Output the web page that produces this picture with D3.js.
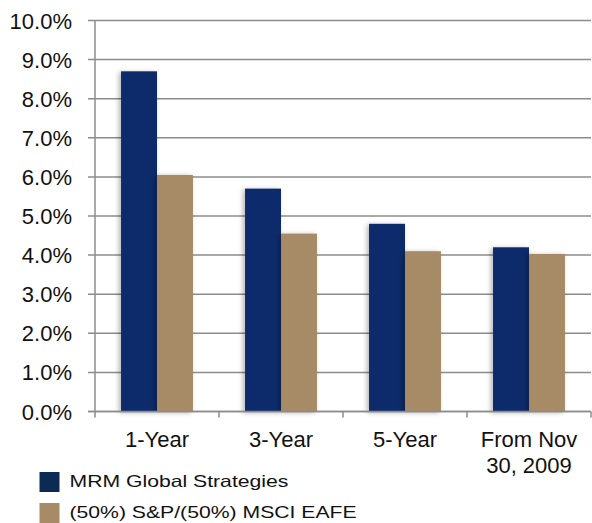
<!DOCTYPE html>
<html>
<head>
<meta charset="utf-8">
<script src="https://cdn.jsdelivr.net/npm/d3@7"></script>
<style>
  body { margin: 0; background: #fff; }
  svg text { font-family: "Liberation Sans", Arial, sans-serif; fill: #111; }
</style>
</head>
<body>
<svg id="chart" width="592" height="523"></svg>
<script>
// Datos
const categories = [["1-Year"], ["3-Year"], ["5-Year"], ["From Nov", "30, 2009"]];
const seriesNames = ["MRM Global Strategies", "(50%) S&P/(50%) MSCI EAFE"];
const mrmValues = [8.7, 5.7, 4.8, 4.2];
const benchValues = [6.05, 4.55, 4.1, 4.03];
const yTicks = [0, 1, 2, 3, 4, 5, 6, 7, 8, 9, 10];

const barColors = ["#0a2a6a", "#a78b66"];
const legendColors = ["#0c2a52", "#a78b66"];

let svg = d3.select("#chart");
const plotLeft = 95, plotRight = 591, plotTop = 20.5, plotBottom = 411.5;

// Escalas
let x0 = d3.scaleBand()
    .domain(d3.range(categories.length))
    .range([plotLeft, plotRight])
    .paddingInner(0.42)
    .paddingOuter(0.21);

let x1 = d3.scaleBand()
    .domain([0, 1])
    .range([0, x0.bandwidth()]);

let y = d3.scaleLinear()
    .domain([0, 10])
    .range([plotBottom, plotTop]);

// Sombra suave de las barras
let defs = svg.append("defs");
let filter = defs.append("filter").attr("id", "shadow")
    .attr("x", "-30%").attr("y", "-10%").attr("width", "160%").attr("height", "120%");
filter.append("feDropShadow")
    .attr("dx", -2).attr("dy", 1).attr("stdDeviation", 2.5)
    .attr("flood-color", "#000").attr("flood-opacity", 0.3);

// Rejilla horizontal
svg.append("g")
    .selectAll("line")
    .data(yTicks)
    .enter()
    .append("line")
    .attr("x1", plotLeft - 7)
    .attr("x2", plotRight)
    .attr("y1", d => y(d))
    .attr("y2", d => y(d))
    .attr("stroke", "#8c8c8c")
    .attr("stroke-width", 1.5);

// Etiquetas eje Y
svg.append("g")
    .selectAll("text")
    .data(yTicks)
    .enter()
    .append("text")
    .attr("x", 72)
    .attr("y", d => y(d) + 8)
    .attr("text-anchor", "end")
    .attr("font-size", "22px")
    .text(d => d3.format(".1f")(d) + "%");

// Barras
let groups = svg.append("g")
    .selectAll("g")
    .data(categories.map((c, i) => [mrmValues[i], benchValues[i]]))
    .enter()
    .append("g")
    .attr("transform", (d, i) => "translate(" + x0(i) + ",0)");

groups.selectAll("rect")
    .data(d => d)
    .enter()
    .append("rect")
    .attr("x", (d, j) => x1(j))
    .attr("y", d => y(d))
    .attr("width", x1.bandwidth())
    .attr("height", d => y(0) - y(d))
    .attr("fill", (d, j) => barColors[j])
    .attr("filter", "url(#shadow)");

// Ejes
svg.append("line")
    .attr("x1", plotLeft).attr("x2", plotLeft)
    .attr("y1", plotTop).attr("y2", plotBottom)
    .attr("stroke", "#8c8c8c").attr("stroke-width", 1.5);

svg.append("line")
    .attr("x1", plotLeft - 7).attr("x2", plotRight)
    .attr("y1", plotBottom).attr("y2", plotBottom)
    .attr("stroke", "#8c8c8c").attr("stroke-width", 1.5);

let step = (plotRight - plotLeft) / categories.length;
svg.append("g")
    .selectAll("line")
    .data(d3.range(categories.length + 1))
    .enter()
    .append("line")
    .attr("x1", i => plotLeft + i * step)
    .attr("x2", i => plotLeft + i * step)
    .attr("y1", plotBottom)
    .attr("y2", plotBottom + 6)
    .attr("stroke", "#8c8c8c").attr("stroke-width", 1.5);

// Etiquetas de categorías
let catLabels = svg.append("g")
    .selectAll("text")
    .data(categories)
    .enter()
    .append("text")
    .attr("text-anchor", "middle")
    .attr("font-size", "22px")
    .attr("x", (d, i) => x0(i) + x0.bandwidth() / 2)
    .attr("y", 446.5);

catLabels.selectAll("tspan")
    .data(d => d)
    .enter()
    .append("tspan")
    .attr("x", function() { return d3.select(this.parentNode).attr("x"); })
    .attr("dy", (d, k) => k === 0 ? 0 : 26.5)
    .text(d => d);

// Leyenda
let legend = svg.append("g")
    .selectAll("g")
    .data(seriesNames)
    .enter()
    .append("g")
    .attr("transform", (d, i) => "translate(39.5," + (472 + i * 31) + ")");

legend.append("rect")
    .attr("width", 20)
    .attr("height", 20)
    .attr("fill", (d, i) => legendColors[i]);

legend.append("text")
    .attr("transform", "translate(30,14.5) scale(1.3,1)")
    .attr("font-size", "16.3px")
    .text(d => d);
</script>
</body>
</html>
